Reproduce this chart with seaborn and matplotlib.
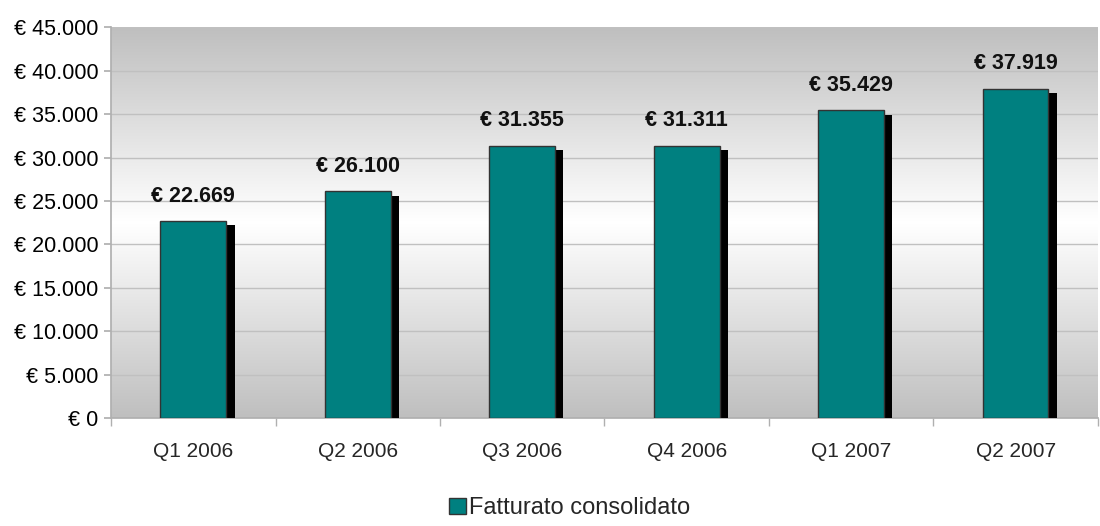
import numpy as np
import pandas as pd
import matplotlib
matplotlib.use('Agg')
import matplotlib.pyplot as plt
import matplotlib.patheffects as pe
from matplotlib.ticker import FuncFormatter, FixedLocator
from matplotlib.patches import Patch
import seaborn as sns

quarters = ["Q1 2006", "Q2 2006", "Q3 2006", "Q4 2006", "Q1 2007", "Q2 2007"]
revenue = [22669, 26100, 31355, 31311, 35429, 37919]
series_name = "Fatturato consolidato"

df = pd.DataFrame({'quarter': quarters, 'revenue': revenue})

def euro(v):
    return "€ " + f"{int(v):,}".replace(",", ".")

sns.set_theme(style="white")
plt.rcParams['font.family'] = ['Liberation Sans', 'DejaVu Sans']

fig = plt.figure(figsize=(11, 5.26), dpi=100)
ax = fig.add_axes([0.101, 0.205, 0.897, 0.743])

# gray -> white -> gray background
grad = np.concatenate([np.linspace(0.75, 1.0, 50), np.linspace(1.0, 0.75, 50)])
img = np.dstack([grad, grad, grad]).reshape(100, 1, 3)
ax.imshow(img, extent=[0, 1, 0, 1], transform=ax.transAxes, aspect='auto',
          zorder=0, interpolation='bilinear')

sns.barplot(data=df, x='quarter', y='revenue', color='#008080', width=0.4,
            edgecolor='#333333', linewidth=1, saturation=1, ax=ax, zorder=3)
for bar in ax.patches:
    bar.set_path_effects([pe.SimplePatchShadow(offset=(6, -3), shadow_rgbFace='black', alpha=1),
                          pe.Normal()])

for i, v in enumerate(revenue):
    ax.text(i, v + 1700, euro(v), ha='center', va='bottom', fontsize=15.5,
            fontweight='bold', color='#111111', zorder=5)

ax.set_ylim(0, 45000)
ax.set_xlim(-0.5, 5.5)
ax.yaxis.set_major_locator(FixedLocator(np.arange(0, 45001, 5000)))
ax.yaxis.set_major_formatter(FuncFormatter(lambda v, p: euro(v)))
ax.grid(axis='y', color='#c0c0c0', linewidth=1, zorder=1)
ax.set_axisbelow(True)
ax.set_xlabel('')
ax.set_ylabel('')
for s in ['top', 'right']:
    ax.spines[s].set_visible(False)
for s in ['left', 'bottom']:
    ax.spines[s].set_color('#b0b0b0')
ax.tick_params(axis='y', labelsize=15.5, colors='#b0b0b0', labelcolor='black',
               length=5, left=True, pad=4)
ax.tick_params(axis='x', labelsize=15, bottom=False, pad=11)
ax.xaxis.set_minor_locator(FixedLocator(np.arange(-0.5, 6, 1)))
ax.tick_params(axis='x', which='minor', bottom=True, length=6, color='#b0b0b0')

handle = Patch(facecolor='#008080', edgecolor='#333333', label=series_name)
fig.legend(handles=[handle], loc='lower center', bbox_to_anchor=(0.518, -0.028),
           frameon=False, fontsize=17, handlelength=0.7, handleheight=0.7,
           handletextpad=0.15)

fig.savefig('out.png', dpi=100)
